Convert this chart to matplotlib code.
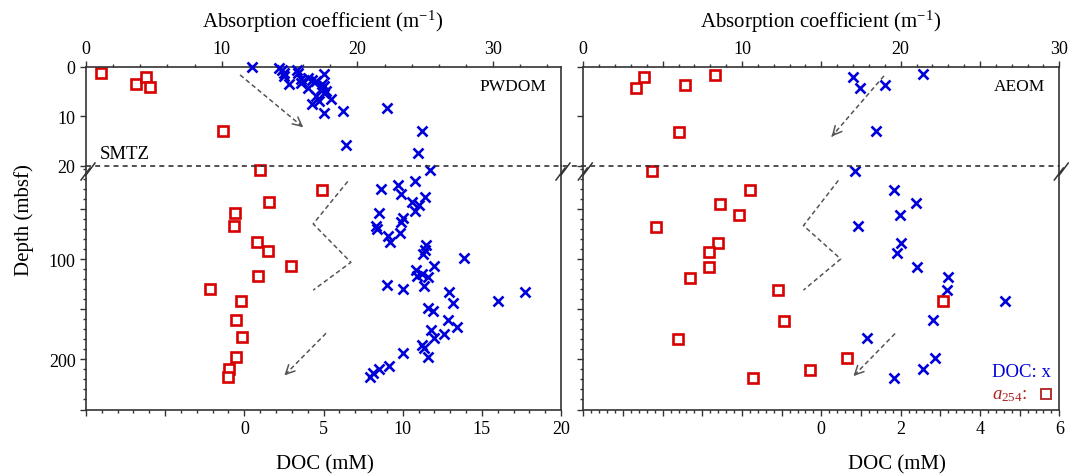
import matplotlib.pyplot as plt
from matplotlib.lines import Line2D
from matplotlib.ticker import MultipleLocator, FixedLocator, FuncFormatter, NullFormatter

plt.rcParams['font.family'] = ['Liberation Serif', 'DejaVu Serif']
plt.rcParams['mathtext.fontset'] = 'custom'
plt.rcParams['mathtext.rm'] = 'Liberation Serif'
plt.rcParams['mathtext.it'] = 'Liberation Serif:italic'

# ---- PWDOM (left panel) ----
# a254 absorption (m-1) vs depth, upper (0-20 m) and lower segment
pw_a_top = [1.1, 3.7, 4.4, 4.7, 10.1]
pw_a_top_depth = [1.3, 3.4, 2.0, 4.1, 12.9]
pw_a_low = [12.8, 17.4, 13.5, 11.0, 10.9, 12.6, 13.4, 15.1, 12.7, 9.1, 11.4, 11.05,
            11.5, 11.05, 10.5, 10.45]
pw_a_low_depth = [11, 31, 43, 54, 67, 83, 92, 107, 117, 130, 142, 161, 178, 198, 210, 218]
# DOC (mM) vs depth
pw_doc_top = [0.5, 2.2, 2.4, 2.5, 3.3, 3.4, 2.5, 2.8, 3.6, 3.6, 4.0, 4.3, 4.5, 5.0, 4.0,
              4.9, 5.05, 4.85, 5.15, 5.0, 4.5, 4.7, 4.3, 5.5, 5.0, 6.2, 9.0, 6.4, 11.2, 10.95]
pw_doc_top_depth = [0.0, 0.3, 0.7, 1.2, 0.7, 1.3, 1.9, 3.5, 3.2, 2.5, 2.3, 2.6, 2.8, 1.5, 4.3,
                    3.4, 3.8, 4.5, 4.8, 5.2, 5.9, 6.8, 7.4, 6.5, 9.3, 8.9, 8.4, 15.8, 13.0, 17.5]
pw_doc_low = [11.7, 8.6, 9.7, 10.8, 9.9, 11.4, 10.6, 11.0, 10.8, 8.5, 10.0, 9.9, 8.3, 8.4,
              9.8, 9.05, 9.2, 11.5, 11.4, 11.3, 13.85, 12.0, 10.85, 11.25, 10.9, 11.6, 9.0,
              10.0, 11.35, 12.9, 17.7, 16.05, 13.2, 11.6, 11.9, 12.85, 13.4, 11.8, 12.0, 12.6,
              11.2, 11.35, 11.6, 10.0, 9.15, 8.5, 8.1, 7.95]
pw_doc_low_depth = [11.7, 30.7, 26, 22.3, 35, 38.3, 42.7, 46, 51.7, 54.3, 59.3, 62.7, 66.7, 70,
                    74, 77.3, 82.7, 86, 90.7, 95, 99.3, 107.3, 110.7, 115, 117.3, 118.3, 125.7,
                    130, 127.3, 132.7, 133.3, 141.7, 144.3, 149.3, 151.7, 160.7, 167.3, 170.7,
                    179, 175, 186, 188.7, 197.7, 194, 206.7, 209.3, 214, 217.3]

# ---- AEOM (right panel) ----
ae_a_top = [3.8, 3.35, 6.4, 8.3, 6.0]
ae_a_top_depth = [2.1, 4.3, 3.6, 1.6, 13.1]
ae_a_low = [4.3, 10.5, 8.6, 9.8, 4.6, 8.5, 7.9, 7.95, 6.7, 12.3, 22.65, 12.65, 5.95, 16.6,
            14.3, 10.7]
ae_a_low_depth = [12.3, 31.7, 45, 55.7, 67.7, 84.3, 93.3, 108.3, 119, 131, 142.3, 161.7,
                  179.3, 199, 210.7, 219]
ae_doc_top = [0.79, 0.98, 1.61, 2.57, 1.38]
ae_doc_top_depth = [2.1, 4.2, 3.6, 1.4, 13.0]
ae_doc_low = [0.85, 1.83, 2.39, 1.98, 0.93, 2.0, 1.9, 2.42, 3.2, 3.16, 4.63, 2.81, 1.14,
              2.87, 2.57, 1.83]
ae_doc_low_depth = [12.3, 31, 44.3, 55.7, 67.3, 84.3, 93.7, 108.3, 118.3, 131, 142.3, 161,
                    179, 199, 210, 218.3]

BLUE = '#0000D8'
RED = '#D80000'
GREY = '#555555'
AXC = '#333333'

W, H = 1069, 477
fig = plt.figure(figsize=(W / 100, H / 100), dpi=100)


def fx(px):
    return px / W


def fy(py):
    return 1 - py / H


Y_TOP, Y_BRK, Y_BOT = 68.0, 166.7, 410.5


def label_every(step, lo=0):
    def fmt(v, pos):
        if v < lo - 1e-9:
            return ''
        if abs(v / step - round(v / step)) > 1e-6:
            return ''
        return f'{v:g}'
    return FuncFormatter(fmt)


def style(ax):
    for s in ax.spines.values():
        s.set_color(AXC)
        s.set_linewidth(1.2)
    ax.tick_params(which='major', direction='out', length=4.5, width=1, color=AXC,
                   labelsize=13, pad=3)
    ax.tick_params(which='minor', direction='out', length=2.5, width=1, color=AXC)


def dashed_arrow(ax, p0, p1):
    ax.plot([p0[0], p1[0]], [p0[1], p1[1]], color=GREY, lw=1.1, ls=(0, (3, 2)))
    back = (p1[0] - 0.06 * (p1[0] - p0[0]), p1[1] - 0.06 * (p1[1] - p0[1]))
    ax.annotate('', xy=p1, xytext=back,
                arrowprops=dict(arrowstyle='->', color=GREY, lw=1.1,
                                mutation_scale=16, shrinkA=0, shrinkB=0))


def panel(x0, x1, a_max, a_major, a_minor, doc_lim, d_major, d_minor, d_step, show_y,
          a_top, a_top_d, a_low, a_low_d, doc_top, doc_top_d, doc_low, doc_low_d):
    top = fig.add_axes([fx(x0), fy(Y_BRK), fx(x1 - x0), (Y_BRK - Y_TOP) / H])
    low = fig.add_axes([fx(x0), fy(Y_BOT), fx(x1 - x0), (Y_BOT - Y_BRK) / H])
    # twins carry the second x scale of each segment (no visible axis)
    top_doc = top.twiny()
    low_a = low.twiny()
    style(top)
    style(low)

    # upper segment: absorption axis on top
    top.set_xlim(0, a_max)
    top.set_ylim(20, 0)
    top.xaxis.tick_top()
    top.xaxis.set_label_position('top')
    top.xaxis.set_major_locator(MultipleLocator(a_major))
    top.xaxis.set_minor_locator(MultipleLocator(a_minor))
    top.xaxis.set_major_formatter(label_every(10))
    top.yaxis.set_major_locator(FixedLocator([0, 10, 20]))
    top.spines['bottom'].set_visible(False)

    # lower segment: DOC axis at the bottom
    low.set_xlim(*doc_lim)
    low.set_ylim(250, 7)
    low.xaxis.tick_bottom()
    low.xaxis.set_major_locator(MultipleLocator(d_major))
    low.xaxis.set_minor_locator(MultipleLocator(d_minor))
    low.xaxis.set_major_formatter(label_every(d_step))
    low.yaxis.set_major_locator(FixedLocator([50, 100, 150, 200, 250]))
    low.yaxis.set_minor_locator(MultipleLocator(10))
    low.yaxis.set_major_formatter(label_every(100, lo=100))
    low.spines['top'].set_visible(False)
    if not show_y:
        top.yaxis.set_major_formatter(NullFormatter())
        low.yaxis.set_major_formatter(NullFormatter())

    top_doc.set_xlim(*doc_lim)
    top_doc.set_axis_off()
    low_a.set_xlim(0, a_max)
    low_a.set_axis_off()

    sq = dict(ls='none', marker='s', ms=6.5, mfc='white', mec=RED, mew=1.9, clip_on=False)
    cx = dict(ls='none', marker='x', ms=6.5, color=BLUE, mew=1.9, clip_on=False)
    top.plot(a_top, a_top_d, **sq)
    low_a.plot(a_low, a_low_d, **sq)
    top_doc.plot(doc_top, doc_top_d, **cx)
    low.plot(doc_low, doc_low_d, **cx)
    return top, low, top_doc, low_a


L = panel(86, 561, 35, 10, 2, (-10, 20), 5, 1, 5, True,
          pw_a_top, pw_a_top_depth, pw_a_low, pw_a_low_depth,
          pw_doc_top, pw_doc_top_depth, pw_doc_low, pw_doc_low_depth)
R = panel(583.3, 1059.3, 30, 5, 1, (-6, 6), 1, 0.2, 2, False,
          ae_a_top, ae_a_top_depth, ae_a_low, ae_a_low_depth,
          ae_doc_top, ae_doc_top_depth, ae_doc_low, ae_doc_low_depth)

# trend arrows
dashed_arrow(L[0], (11.35, 1.6), (16.0, 12.2))
L[1].plot([6.53, 4.35, 6.73, 4.35], [22.7, 65, 103.3, 131], color=GREY, lw=1.1, ls=(0, (3, 2)))
dashed_arrow(L[1], (5.16, 174), (2.53, 216))
dashed_arrow(R[0], (18.95, 1.8), (15.65, 14.1))
R[1].plot([0.43, -0.45, 0.49, -0.45], [21.7, 66.7, 100, 131], color=GREY, lw=1.1, ls=(0, (3, 2)))
dashed_arrow(R[1], (1.86, 174.3), (0.81, 216.7))

# SMTZ line running across both panels
fig.add_artist(Line2D([fx(86), fx(1059.3)], [fy(Y_BRK)] * 2, transform=fig.transFigure,
                      color=AXC, lw=1.2, ls=(0, (3, 2.5))))

# axis break marks
for xs in (86, 561, 583.3, 1059.3):
    for off in (0, 5):
        fig.add_artist(Line2D([fx(xs - 5 + off), fx(xs + 4 + off)],
                              [fy(181 - off), fy(169 - off)],
                              transform=fig.transFigure, color=AXC, lw=1.1))

L[0].text(1.0, 17.6, 'SMTZ', fontsize=13.5, va='center', ha='left')
L[0].text(0.97, 0.81, 'PWDOM', transform=L[0].transAxes, fontsize=12.5, ha='right',
          va='center')
R[0].text(0.97, 0.81, 'AEOM', transform=R[0].transAxes, fontsize=12.5, ha='right',
          va='center')

fig.text(fx(323), fy(22), 'Absorption coefficient (m$^{-1}$)', fontsize=15, ha='center',
         va='center')
fig.text(fx(821), fy(22), 'Absorption coefficient (m$^{-1}$)', fontsize=15, ha='center',
         va='center')
fig.text(fx(325), fy(465), 'DOC (mM)', fontsize=15, ha='center', va='center')
fig.text(fx(897), fy(465), 'DOC (mM)', fontsize=15, ha='center', va='center')
fig.text(fx(24), fy(220), 'Depth (mbsf)', fontsize=15, ha='center', va='center',
         rotation=90)

# legend
fig.text(fx(992), fy(373), 'DOC: x', fontsize=13.5, color=BLUE, va='center', ha='left')
fig.text(fx(992), fy(396), r'$\mathit{a}_{\mathit{254}}$:', fontsize=13.5, color='#B02020',
         va='center', ha='left')
fig.add_artist(Line2D([fx(1046)], [fy(395)], transform=fig.transFigure, ls='none',
                      marker='s', ms=6.5, mfc='white', mec='#B02020', mew=1.3))

fig.savefig('out.png', dpi=100)
